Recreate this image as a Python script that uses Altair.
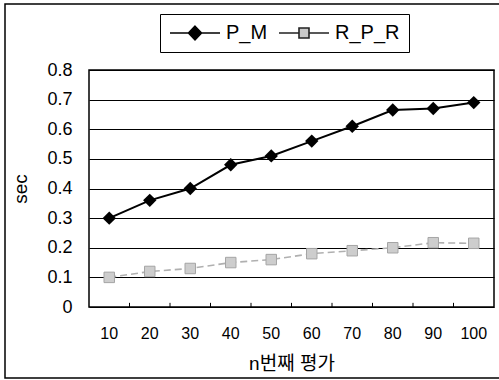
import altair as alt
import pandas as pd

# ---- data ----
n_values = [10, 20, 30, 40, 50, 60, 70, 80, 90, 100]
pm_values = [0.30, 0.36, 0.40, 0.48, 0.51, 0.56, 0.61, 0.665, 0.67, 0.69]
rpr_values = [0.10, 0.12, 0.13, 0.15, 0.16, 0.18, 0.19, 0.20, 0.217, 0.215]
series_names = ["P_M", "R_P_R"]
y_ticks = [0, 0.1, 0.2, 0.3, 0.4, 0.5, 0.6, 0.7, 0.8]

rows = []
for n, a, b in zip(n_values, pm_values, rpr_values):
    rows.append({"n": n, "series": "P_M", "sec": a})
    rows.append({"n": n, "series": "R_P_R", "sec": b})
df = pd.DataFrame(rows)
ticks_df = pd.DataFrame({"n": n_values[1:], "sec": [0.0] * 9, "hi": [0.014] * 9})

FONT = "Liberation Sans, Arial, Noto Sans CJK KR"

xscale = alt.Scale(type="band", domain=n_values, paddingInner=0, paddingOuter=0)
yscale = alt.Scale(domain=[0, 0.8], nice=False)

x_axis = alt.Axis(title="n번째 평가", labelAngle=0, ticks=False, domain=False,
                  labelPadding=18, titlePadding=13, labelFontSize=16,
                  titleFontSize=19, titleFontWeight="normal", grid=False)
y_axis = alt.Axis(title="sec", values=y_ticks, format="~g", ticks=False, tickCount=20,
                  domain=False, labelPadding=17, titlePadding=16, labelOverlap=False,
                  labelFontSize=18, titleFontSize=19, titleFontWeight="normal",
                  grid=True, gridColor="black", gridWidth=1, gridOpacity=1)


def xe(**kw):
    return alt.X("n:O", scale=xscale, axis=x_axis, **kw)


def ye():
    return alt.Y("sec:Q", scale=yscale, axis=y_axis)


base = alt.Chart(df)

line_pm = base.transform_filter(alt.datum.series == "P_M").mark_line(
    color="black", strokeWidth=2).encode(x=xe(), y=ye())
line_rpr = base.transform_filter(alt.datum.series == "R_P_R").mark_line(
    color="#b0b0b0", strokeWidth=1.6, strokeDash=[7, 4]).encode(x=xe(), y=ye())
pt_pm = base.transform_filter(alt.datum.series == "P_M").mark_point(
    shape="diamond", filled=True, color="black", size=180, opacity=1).encode(x=xe(), y=ye())
pt_rpr = base.transform_filter(alt.datum.series == "R_P_R").mark_point(
    shape="square", filled=True, fill="#cdcdcd", stroke="#a5a5a5", strokeWidth=1,
    size=110, opacity=1).encode(x=xe(), y=ye())

tick_marks = alt.Chart(ticks_df).mark_rule(color="black", strokeWidth=1).encode(
    x=xe(bandPosition=0), y=ye(), y2="hi:Q")

legend_paths = [
    "M-1,0L1,0M0,-0.27L0.26,0L0,0.27L-0.26,0Z",
    "M-1,0L-0.2,0M0.2,0L1,0M-0.2,-0.2L0.2,-0.2L0.2,0.2L-0.2,0.2Z",
]
legend_layer = base.transform_filter("false").mark_point(filled=True, size=2500).encode(
    x=xe(), y=ye(),
    shape=alt.Shape("series:N", scale=alt.Scale(domain=series_names, range=legend_paths),
                    legend=alt.Legend(orient="none", legendX=71, legendY=-56,
                                      direction="horizontal", title=None,
                                      strokeColor="black", padding=9, clipHeight=20,
                                      labelFontSize=20, labelFont=FONT, labelOffset=5,
                                      columnPadding=10, symbolStrokeWidth=1.6,
                                      symbolSize=2500, symbolOpacity=1)),
    fill=alt.Fill("series:N", scale=alt.Scale(domain=series_names, range=["black", "#c9c9c9"])),
    stroke=alt.Stroke("series:N", scale=alt.Scale(domain=series_names, range=["black", "#222222"])),
)

frame = alt.Chart(pd.DataFrame({"f": [0]})).mark_rect(
    fill=None, stroke="black", strokeWidth=1.5).encode(
    x=alt.value(-84), x2=alt.value(430), y=alt.value(-66), y2=alt.value(308))

chart = alt.layer(line_pm, frame, line_rpr, tick_marks, pt_pm, pt_rpr, legend_layer).properties(
    width=405, height=237,
    autosize=alt.AutoSizeParams(type="none"),
    padding={"left": 89, "top": 70, "right": 5, "bottom": 73},
).configure(font=FONT).configure_view(
    stroke="black", strokeWidth=1.5
).configure_axis(labelFont=FONT, titleFont=FONT, labelColor="black", titleColor="black")

chart.save("out.html", embed_options={"renderer": "svg", "actions": False})
